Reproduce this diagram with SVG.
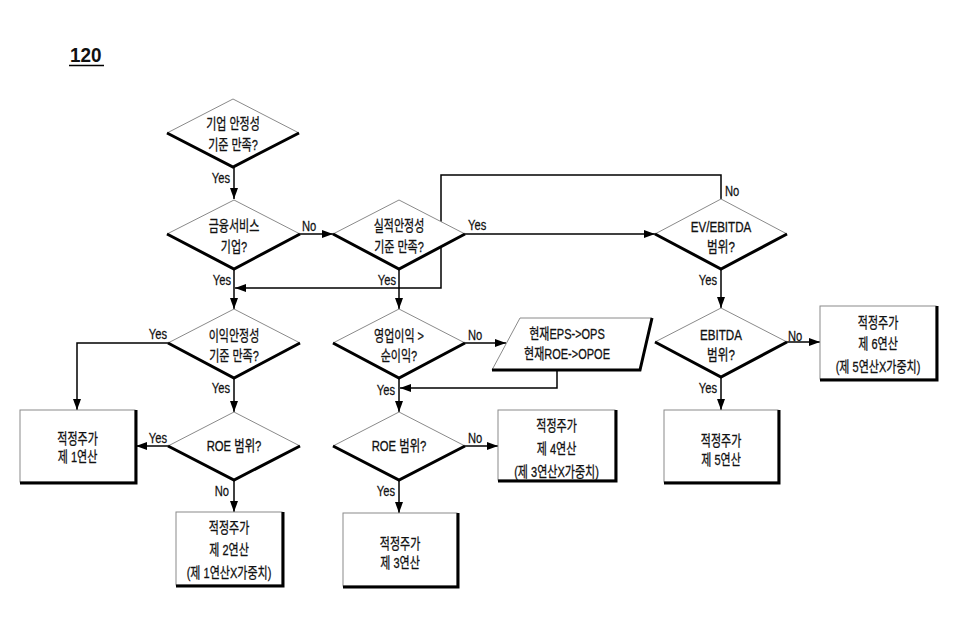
<svg xmlns="http://www.w3.org/2000/svg" width="956" height="631" viewBox="0 0 956 631">
<style>
.bg{fill:#fff}
.thin{fill:#fff;stroke:#8a8a8a;stroke-width:1}
.thick{fill:none;stroke:#000;stroke-width:3;stroke-linejoin:miter}
.c{fill:none;stroke:#000;stroke-width:1.5;marker-end:url(#ah)}
.t{font-family:"Liberation Sans","Noto Sans CJK KR",sans-serif;font-size:14.5px;fill:#111;stroke:#111;stroke-width:0.3;text-anchor:middle}
.l{font-family:"Liberation Sans","Noto Sans CJK KR",sans-serif;font-size:14px;fill:#111;stroke:#111;stroke-width:0.25}
</style>
<defs>
<marker id="ah" markerUnits="userSpaceOnUse" markerWidth="11" markerHeight="8" refX="11" refY="4" orient="auto">
<path d="M0,0 L11,4 L0,8 z" fill="#000"/>
</marker>
</defs>
<rect class="bg" x="0" y="0" width="956" height="631"/>

<g id="title">
<text x="0" y="62" transform="matrix(0.9,0,0,1,70,0)" style="font-family:'Liberation Sans',sans-serif;font-size:21px;font-weight:bold;fill:#111">120</text>
<line x1="69" y1="65.5" x2="104" y2="65.5" stroke="#000" stroke-width="1.5"/>
</g>

<g id="connectors">
<path class="c" d="M234,167 V199"/>
<path class="c" d="M300,234 H333"/>
<path class="c" d="M465,234 H655"/>
<path class="c" d="M721,199 V175 H441 V288 H235"/>
<path class="c" d="M234,269 V309"/>
<path class="c" d="M399,269 V309"/>
<path class="c" d="M168,343 H77 V410"/>
<path class="c" d="M234,378 V412"/>
<path class="c" d="M168,446 H136"/>
<path class="c" d="M234,480 V512"/>
<path class="c" d="M465,343 H506"/>
<path class="c" d="M557,370 V388 H400"/>
<path class="c" d="M399,378 V412"/>
<path class="c" d="M465,446 H498"/>
<path class="c" d="M399,480 V513"/>
<path class="c" d="M721,269 V308"/>
<path class="c" d="M787,342 H820"/>
<path class="c" d="M721,377 V410"/>
</g>

<g id="labels">
<text class="l" x="0" y="183" transform="matrix(0.8,0,0,1,230,0)" text-anchor="end">Yes</text>
<text class="l" x="0" y="231" transform="matrix(0.8,0,0,1,302,0)">No</text>
<text class="l" x="0" y="285" transform="matrix(0.8,0,0,1,231,0)" text-anchor="end">Yes</text>
<text class="l" x="0" y="285" transform="matrix(0.8,0,0,1,396,0)" text-anchor="end">Yes</text>
<text class="l" x="0" y="230" transform="matrix(0.8,0,0,1,468,0)">Yes</text>
<text class="l" x="0" y="196" transform="matrix(0.8,0,0,1,725,0)">No</text>
<text class="l" x="0" y="285" transform="matrix(0.8,0,0,1,717,0)" text-anchor="end">Yes</text>
<text class="l" x="0" y="339" transform="matrix(0.8,0,0,1,167,0)" text-anchor="end">Yes</text>
<text class="l" x="0" y="393" transform="matrix(0.8,0,0,1,230,0)" text-anchor="end">Yes</text>
<text class="l" x="0" y="443" transform="matrix(0.8,0,0,1,167,0)" text-anchor="end">Yes</text>
<text class="l" x="0" y="496" transform="matrix(0.8,0,0,1,229,0)" text-anchor="end">No</text>
<text class="l" x="0" y="496" transform="matrix(0.8,0,0,1,395,0)" text-anchor="end">Yes</text>
<text class="l" x="0" y="340" transform="matrix(0.8,0,0,1,468,0)">No</text>
<text class="l" x="0" y="395" transform="matrix(0.8,0,0,1,395,0)" text-anchor="end">Yes</text>
<text class="l" x="0" y="443" transform="matrix(0.8,0,0,1,468,0)">No</text>
<text class="l" x="0" y="341" transform="matrix(0.8,0,0,1,788,0)">No</text>
<text class="l" x="0" y="393" transform="matrix(0.8,0,0,1,717,0)" text-anchor="end">Yes</text>
</g>

<g id="d1">
<polygon class="thin" points="233,99 299,133 233,167 167,133"/>
<polyline class="thick" points="167,133 233,167 299,133"/>
<text class="t" transform="matrix(0.76,0,0,1,233,0)"><tspan x="0" y="129">기업 안정성</tspan><tspan x="0" y="150">기준 만족?</tspan></text>
</g>

<g id="d2">
<polygon class="thin" points="234,200 300,234 234,269 167,234"/>
<polyline class="thick" points="167,234 234,269 300,234"/>
<text class="t" transform="matrix(0.76,0,0,1,234,0)"><tspan x="0" y="231">금융서비스</tspan><tspan x="0" y="252">기업?</tspan></text>
</g>

<g id="d3">
<polygon class="thin" points="399,200 465,234 399,269 333,234"/>
<polyline class="thick" points="333,234 399,269 465,234"/>
<text class="t" transform="matrix(0.76,0,0,1,399,0)"><tspan x="0" y="231">실적안정성</tspan><tspan x="0" y="252">기준 만족?</tspan></text>
</g>

<g id="d-evebitda">
<polygon class="thin" points="721,199 787,234 721,269 655,234"/>
<polyline class="thick" points="655,234 721,269 787,234"/>
<text class="t" transform="matrix(0.8,0,0,1,721,0)"><tspan x="0" y="232">EV/EBITDA</tspan><tspan x="0" y="252">범위?</tspan></text>
</g>

<g id="d4">
<polygon class="thin" points="234,309 300,343 234,378 168,343"/>
<polyline class="thick" points="168,343 234,378 300,343"/>
<text class="t" transform="matrix(0.76,0,0,1,234,0)"><tspan x="0" y="341">이익안정성</tspan><tspan x="0" y="361">기준 만족?</tspan></text>
</g>

<g id="d5">
<polygon class="thin" points="234,412 300,446 234,480 168,446"/>
<polyline class="thick" points="168,446 234,480 300,446"/>
<text class="t" transform="matrix(0.78,0,0,1,234,0)"><tspan x="0" y="451">ROE 범위?</tspan></text>
</g>

<g id="d6">
<polygon class="thin" points="399,309 465,343 399,378 333,343"/>
<polyline class="thick" points="333,343 399,378 465,343"/>
<text class="t" transform="matrix(0.76,0,0,1,399,0)"><tspan x="0" y="341">영업이익 &gt;</tspan><tspan x="0" y="361">순이익?</tspan></text>
</g>

<g id="d7">
<polygon class="thin" points="399,412 465,446 399,480 333,446"/>
<polyline class="thick" points="333,446 399,480 465,446"/>
<text class="t" transform="matrix(0.78,0,0,1,399,0)"><tspan x="0" y="451">ROE 범위?</tspan></text>
</g>

<g id="d-ebitda">
<polygon class="thin" points="721,308 787,342 721,377 655,342"/>
<polyline class="thick" points="655,342 721,377 787,342"/>
<text class="t" transform="matrix(0.8,0,0,1,721,0)"><tspan x="0" y="340">EBITDA</tspan><tspan x="0" y="360">범위?</tspan></text>
</g>

<g id="para">
<polygon class="thin" points="520,318 652,318 640,370 492,370"/>
<polyline class="thick" points="652,318 640,370 492,370"/>
<text class="t" transform="matrix(0.76,0,0,1,567,0)"><tspan x="0" y="339">현재EPS-&gt;OPS</tspan><tspan x="0" y="359">현재ROE-&gt;OPOE</tspan></text>
</g>

<g id="box1">
<rect class="thin" x="20" y="410" width="115" height="72"/>
<polyline class="thick" points="136,410 136,483 20,483"/>
<text class="t" transform="matrix(0.76,0,0,1,77.5,0)"><tspan x="0" y="444">적정주가</tspan><tspan x="0" y="462">제 1연산</tspan></text>
</g>

<g id="box2">
<rect class="thin" x="176" y="512" width="106" height="73"/>
<polyline class="thick" points="283,512 283,586 176,586"/>
<text class="t" transform="matrix(0.76,0,0,1,229,0)"><tspan x="0" y="533">적정주가</tspan><tspan x="0" y="555">제 2연산</tspan><tspan x="0" y="578">(제 1연산X가중치)</tspan></text>
</g>

<g id="box3">
<rect class="thin" x="343" y="513" width="114" height="73"/>
<polyline class="thick" points="458,513 458,587 343,587"/>
<text class="t" transform="matrix(0.76,0,0,1,400,0)"><tspan x="0" y="549">적정주가</tspan><tspan x="0" y="568">제 3연산</tspan></text>
</g>

<g id="box4">
<rect class="thin" x="498" y="410" width="117" height="70"/>
<polyline class="thick" points="616,410 616,481 498,481"/>
<text class="t" transform="matrix(0.76,0,0,1,556.5,0)"><tspan x="0" y="431">적정주가</tspan><tspan x="0" y="454">제 4연산</tspan><tspan x="0" y="477">(제 3연산X가중치)</tspan></text>
</g>

<g id="box5">
<rect class="thin" x="664" y="410" width="114" height="72"/>
<polyline class="thick" points="779,410 779,483 664,483"/>
<text class="t" transform="matrix(0.76,0,0,1,721,0)"><tspan x="0" y="446">적정주가</tspan><tspan x="0" y="465">제 5연산</tspan></text>
</g>

<g id="box6">
<rect class="thin" x="820" y="306" width="116" height="73"/>
<polyline class="thick" points="937,306 937,380 820,380"/>
<text class="t" transform="matrix(0.76,0,0,1,878,0)"><tspan x="0" y="328">적정주가</tspan><tspan x="0" y="349">제 6연산</tspan><tspan x="0" y="372">(제 5연산X가중치)</tspan></text>
</g>
</svg>
